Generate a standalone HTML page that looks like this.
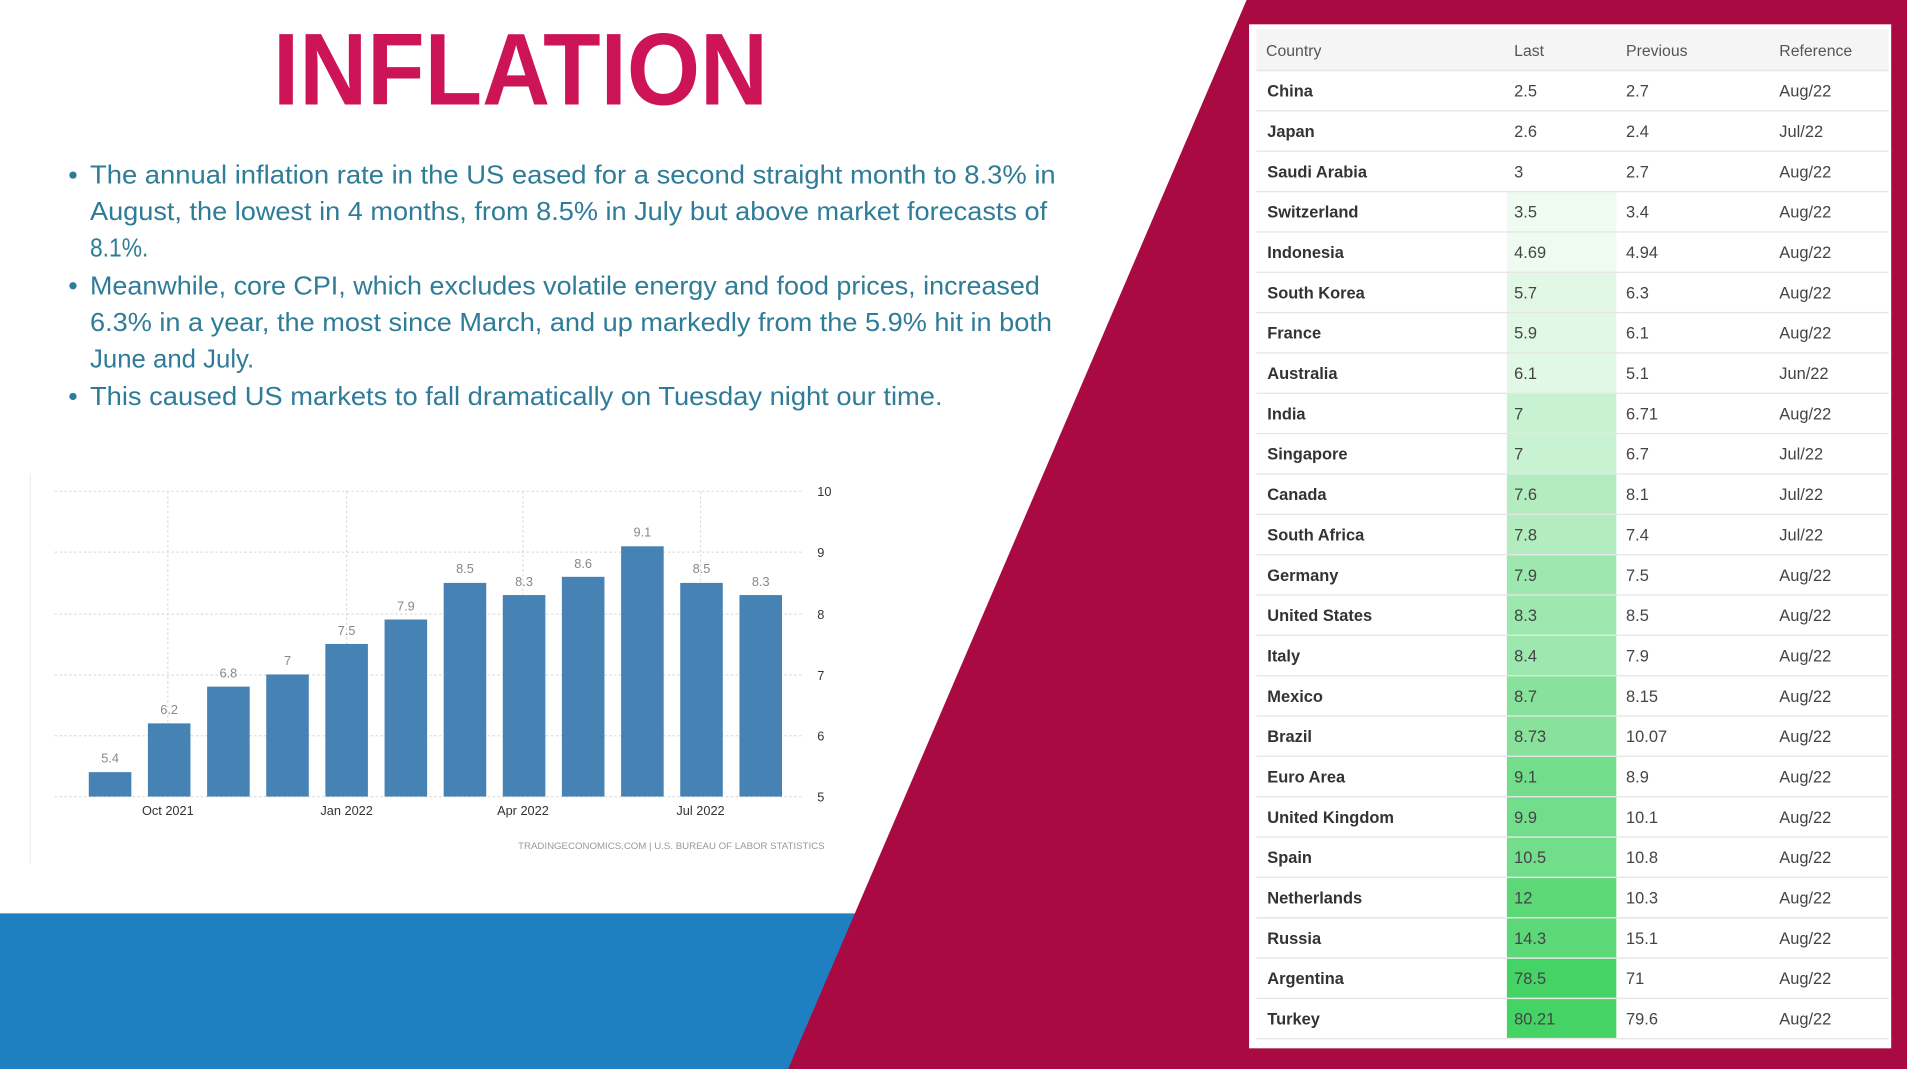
<!DOCTYPE html>
<html><head><meta charset="utf-8"><style>html,body{margin:0;padding:0;background:#fff;overflow:hidden}svg{display:block}</style></head><body>
<svg width="1907" height="1069" viewBox="0 0 1568 879" preserveAspectRatio="none" xmlns="http://www.w3.org/2000/svg" font-family="Liberation Sans, sans-serif">
<rect width="1568" height="879" fill="#fff"/>
<polygon points="0,751 703,751 661,879 0,879" fill="#1e7fc1"/>
<polygon points="1025,0 1568,0 1568,879 648,879" fill="#aa0a42"/>
<text x="428" y="86" text-anchor="middle" font-size="84" font-weight="bold" fill="#cc1456" textLength="407" lengthAdjust="spacingAndGlyphs">INFLATION</text>
<g font-size="21" fill="#2f7c98">
<circle cx="60" cy="144" r="3"/><circle cx="60" cy="235" r="3"/><circle cx="60" cy="326" r="3"/>
<text x="74" y="151" textLength="794" lengthAdjust="spacingAndGlyphs">The annual inflation rate in the US eased for a second straight month to 8.3% in</text>
<text x="74" y="181" textLength="787" lengthAdjust="spacingAndGlyphs">August, the lowest in 4 months, from 8.5% in July but above market forecasts of</text>
<text x="74" y="211" textLength="48" lengthAdjust="spacingAndGlyphs">8.1%.</text>
<text x="74" y="242" textLength="781" lengthAdjust="spacingAndGlyphs">Meanwhile, core CPI, which excludes volatile energy and food prices, increased</text>
<text x="74" y="272" textLength="791" lengthAdjust="spacingAndGlyphs">6.3% in a year, the most since March, and up markedly from the 5.9% hit in both</text>
<text x="74" y="302" textLength="135" lengthAdjust="spacingAndGlyphs">June and July.</text>
<text x="74" y="333" textLength="701" lengthAdjust="spacingAndGlyphs">This caused US markets to fall dramatically on Tuesday night our time.</text>
</g>
<line x1="25" y1="390" x2="25" y2="710" stroke="#eee"/>
<g stroke="#ddd" stroke-dasharray="2,2" stroke-width="1">
<line x1="45" y1="404" x2="660" y2="404"/><line x1="45" y1="454" x2="660" y2="454"/><line x1="45" y1="505" x2="660" y2="505"/><line x1="45" y1="555" x2="660" y2="555"/><line x1="45" y1="605" x2="660" y2="605"/><line x1="45" y1="655" x2="660" y2="655"/>
<line x1="138" y1="404" x2="138" y2="655"/><line x1="285" y1="404" x2="285" y2="655"/><line x1="430" y1="404" x2="430" y2="655"/><line x1="576" y1="404" x2="576" y2="655"/>
</g>
<g fill="#4682b4">
<rect x="73" y="634.9" width="35" height="20.1"/>
<rect x="121.6" y="594.8" width="35" height="60.2"/>
<rect x="170.3" y="564.6" width="35" height="90.4"/>
<rect x="218.9" y="554.6" width="35" height="100.4"/>
<rect x="267.5" y="529.5" width="35" height="125.5"/>
<rect x="316.2" y="509.4" width="35" height="145.6"/>
<rect x="364.8" y="479.3" width="35" height="175.7"/>
<rect x="413.4" y="489.3" width="35" height="165.7"/>
<rect x="462" y="474.3" width="35" height="180.7"/>
<rect x="510.7" y="449.2" width="35" height="205.8"/>
<rect x="559.3" y="479.3" width="35" height="175.7"/>
<rect x="608" y="489.3" width="35" height="165.7"/>
</g>
<g font-size="10.5" fill="#888" text-anchor="middle">
<text x="90.5" y="627">5.4</text><text x="139.1" y="587">6.2</text><text x="187.8" y="557">6.8</text><text x="236.4" y="547">7</text><text x="285" y="522">7.5</text><text x="333.7" y="502">7.9</text><text x="382.3" y="471">8.5</text><text x="430.9" y="482">8.3</text><text x="479.5" y="467">8.6</text><text x="528.2" y="441">9.1</text><text x="576.8" y="471">8.5</text><text x="625.5" y="482">8.3</text>
</g>
<g font-size="10.5" fill="#333">
<text x="672" y="408">10</text><text x="672" y="458">9</text><text x="672" y="509">8</text><text x="672" y="559">7</text><text x="672" y="609">6</text><text x="672" y="659">5</text>
<g text-anchor="middle"><text x="138" y="670">Oct 2021</text><text x="285" y="670">Jan 2022</text><text x="430" y="670">Apr 2022</text><text x="576" y="670">Jul 2022</text></g>
</g>
<text x="678" y="698" font-size="7.5" fill="#999" text-anchor="end" textLength="252" lengthAdjust="spacingAndGlyphs">TRADINGECONOMICS.COM | U.S. BUREAU OF LABOR STATISTICS</text>

<rect x="1027" y="20" width="528" height="842" fill="#fff"/>
<rect x="1033" y="24" width="520" height="34" fill="#f5f5f5"/>
<g font-size="13" fill="#555"><text x="1041" y="46">Country</text><text x="1245" y="46">Last</text><text x="1337" y="46">Previous</text><text x="1463" y="46">Reference</text></g>

<g>
<rect x="1239" y="157.5" width="90" height="66.4" fill="#effbf1"/>
<rect x="1239" y="223.9" width="90" height="99.5" fill="#e2f8e6"/>
<rect x="1239" y="323.4" width="90" height="66.3" fill="#c8f2d1"/>
<rect x="1239" y="389.7" width="90" height="66.4" fill="#b2ecbf"/>
<rect x="1239" y="456.1" width="90" height="99.5" fill="#9ce8ae"/>
<rect x="1239" y="555.6" width="90" height="66.3" fill="#88e29c"/>
<rect x="1239" y="621.9" width="90" height="99.5" fill="#72dd8b"/>
<rect x="1239" y="721.4" width="90" height="66.4" fill="#5cd878"/>
<rect x="1239" y="787.8" width="90" height="66.3" fill="#45d366"/>
</g>
<g stroke="#e6e6e6" stroke-width="1.2">
<line x1="1033" x2="1553" y1="58" y2="58"/><line x1="1033" x2="1553" y1="91.2" y2="91.2"/><line x1="1033" x2="1553" y1="124.3" y2="124.3"/><line x1="1033" x2="1553" y1="157.5" y2="157.5"/><line x1="1033" x2="1553" y1="190.7" y2="190.7"/><line x1="1033" x2="1553" y1="223.9" y2="223.9"/><line x1="1033" x2="1553" y1="257" y2="257"/><line x1="1033" x2="1553" y1="290.2" y2="290.2"/><line x1="1033" x2="1553" y1="323.4" y2="323.4"/><line x1="1033" x2="1553" y1="356.5" y2="356.5"/><line x1="1033" x2="1553" y1="389.7" y2="389.7"/><line x1="1033" x2="1553" y1="422.9" y2="422.9"/><line x1="1033" x2="1553" y1="456.1" y2="456.1"/><line x1="1033" x2="1553" y1="489.2" y2="489.2"/><line x1="1033" x2="1553" y1="522.4" y2="522.4"/><line x1="1033" x2="1553" y1="555.6" y2="555.6"/><line x1="1033" x2="1553" y1="588.7" y2="588.7"/><line x1="1033" x2="1553" y1="621.9" y2="621.9"/><line x1="1033" x2="1553" y1="655.1" y2="655.1"/><line x1="1033" x2="1553" y1="688.3" y2="688.3"/><line x1="1033" x2="1553" y1="721.4" y2="721.4"/><line x1="1033" x2="1553" y1="754.6" y2="754.6"/><line x1="1033" x2="1553" y1="787.8" y2="787.8"/><line x1="1033" x2="1553" y1="820.9" y2="820.9"/><line x1="1033" x2="1553" y1="854" y2="854"/>
</g>
<g font-size="13.5" font-weight="bold" fill="#333">
<text x="1042" y="79.5">China</text><text x="1042" y="112.7">Japan</text><text x="1042" y="145.8">Saudi Arabia</text><text x="1042" y="179">Switzerland</text><text x="1042" y="212.2">Indonesia</text><text x="1042" y="245.4">South Korea</text><text x="1042" y="278.5">France</text><text x="1042" y="311.7">Australia</text><text x="1042" y="344.9">India</text><text x="1042" y="378">Singapore</text><text x="1042" y="411.2">Canada</text><text x="1042" y="444.4">South Africa</text><text x="1042" y="477.6">Germany</text><text x="1042" y="510.7">United States</text><text x="1042" y="543.9">Italy</text><text x="1042" y="577.1">Mexico</text><text x="1042" y="610.2">Brazil</text><text x="1042" y="643.4">Euro Area</text><text x="1042" y="676.6">United Kingdom</text><text x="1042" y="709.8">Spain</text><text x="1042" y="742.9">Netherlands</text><text x="1042" y="776.1">Russia</text><text x="1042" y="809.3">Argentina</text><text x="1042" y="842.4">Turkey</text>
</g>
<g font-size="13.5" fill="#444">
<text x="1245" y="79.5">2.5</text><text x="1245" y="112.7">2.6</text><text x="1245" y="145.8">3</text><text x="1245" y="179">3.5</text><text x="1245" y="212.2">4.69</text><text x="1245" y="245.4">5.7</text><text x="1245" y="278.5">5.9</text><text x="1245" y="311.7">6.1</text><text x="1245" y="344.9">7</text><text x="1245" y="378">7</text><text x="1245" y="411.2">7.6</text><text x="1245" y="444.4">7.8</text><text x="1245" y="477.6">7.9</text><text x="1245" y="510.7">8.3</text><text x="1245" y="543.9">8.4</text><text x="1245" y="577.1">8.7</text><text x="1245" y="610.2">8.73</text><text x="1245" y="643.4">9.1</text><text x="1245" y="676.6">9.9</text><text x="1245" y="709.8">10.5</text><text x="1245" y="742.9">12</text><text x="1245" y="776.1">14.3</text><text x="1245" y="809.3">78.5</text><text x="1245" y="842.4">80.21</text>

<text x="1337" y="79.5">2.7</text><text x="1337" y="112.7">2.4</text><text x="1337" y="145.8">2.7</text><text x="1337" y="179">3.4</text><text x="1337" y="212.2">4.94</text><text x="1337" y="245.4">6.3</text><text x="1337" y="278.5">6.1</text><text x="1337" y="311.7">5.1</text><text x="1337" y="344.9">6.71</text><text x="1337" y="378">6.7</text><text x="1337" y="411.2">8.1</text><text x="1337" y="444.4">7.4</text><text x="1337" y="477.6">7.5</text><text x="1337" y="510.7">8.5</text><text x="1337" y="543.9">7.9</text><text x="1337" y="577.1">8.15</text><text x="1337" y="610.2">10.07</text><text x="1337" y="643.4">8.9</text><text x="1337" y="676.6">10.1</text><text x="1337" y="709.8">10.8</text><text x="1337" y="742.9">10.3</text><text x="1337" y="776.1">15.1</text><text x="1337" y="809.3">71</text><text x="1337" y="842.4">79.6</text>

<text x="1463" y="79.5">Aug/22</text><text x="1463" y="112.7">Jul/22</text><text x="1463" y="145.8">Aug/22</text><text x="1463" y="179">Aug/22</text><text x="1463" y="212.2">Aug/22</text><text x="1463" y="245.4">Aug/22</text><text x="1463" y="278.5">Aug/22</text><text x="1463" y="311.7">Jun/22</text><text x="1463" y="344.9">Aug/22</text><text x="1463" y="378">Jul/22</text><text x="1463" y="411.2">Jul/22</text><text x="1463" y="444.4">Jul/22</text><text x="1463" y="477.6">Aug/22</text><text x="1463" y="510.7">Aug/22</text><text x="1463" y="543.9">Aug/22</text><text x="1463" y="577.1">Aug/22</text><text x="1463" y="610.2">Aug/22</text><text x="1463" y="643.4">Aug/22</text><text x="1463" y="676.6">Aug/22</text><text x="1463" y="709.8">Aug/22</text><text x="1463" y="742.9">Aug/22</text><text x="1463" y="776.1">Aug/22</text><text x="1463" y="809.3">Aug/22</text><text x="1463" y="842.4">Aug/22</text>
</g>
</svg>
</body></html>
